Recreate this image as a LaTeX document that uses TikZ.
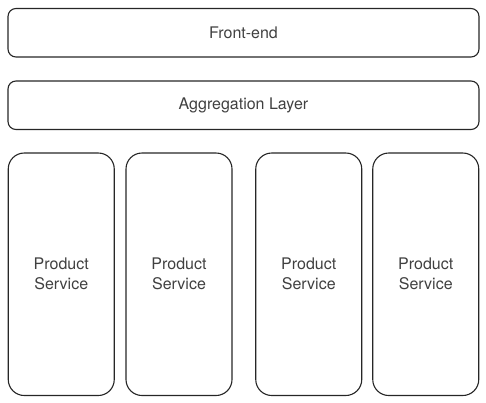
\documentclass[tikz,border=0pt]{standalone}
\usepackage{fontspec}
\setmainfont{TeX Gyre Heros}
\colorlet{boxline}{black!85}
\colorlet{boxtext}{black!75}

\begin{document}
\begin{tikzpicture}[x=1pt, y=-1pt,
    layerbox/.style={draw=boxline, line width=1.1pt, rounded corners=8pt, minimum width=471pt, minimum height=48.5pt, text=boxtext, font=\fontsize{16}{20}\selectfont},
    servicebox/.style={draw=boxline, line width=1.1pt, rounded corners=16pt, minimum width=106pt, minimum height=242.5pt, align=center, text=boxtext, font=\fontsize{16}{20}\selectfont}]
    \useasboundingbox (0,0) rectangle (486,402);

    \node[layerbox] (frontend) at (243.5, 32.75) {Front-end};
    \node[layerbox] (aggregation) at (243.5, 105.25) {Aggregation Layer};

    \foreach \x/\name in {61.25/svcA, 179/svcB, 308.75/svcC, 425.75/svcD} {
        \node[servicebox] (\name) at (\x, 274.25) {Product\\Service};
    }
\end{tikzpicture}
\end{document}
